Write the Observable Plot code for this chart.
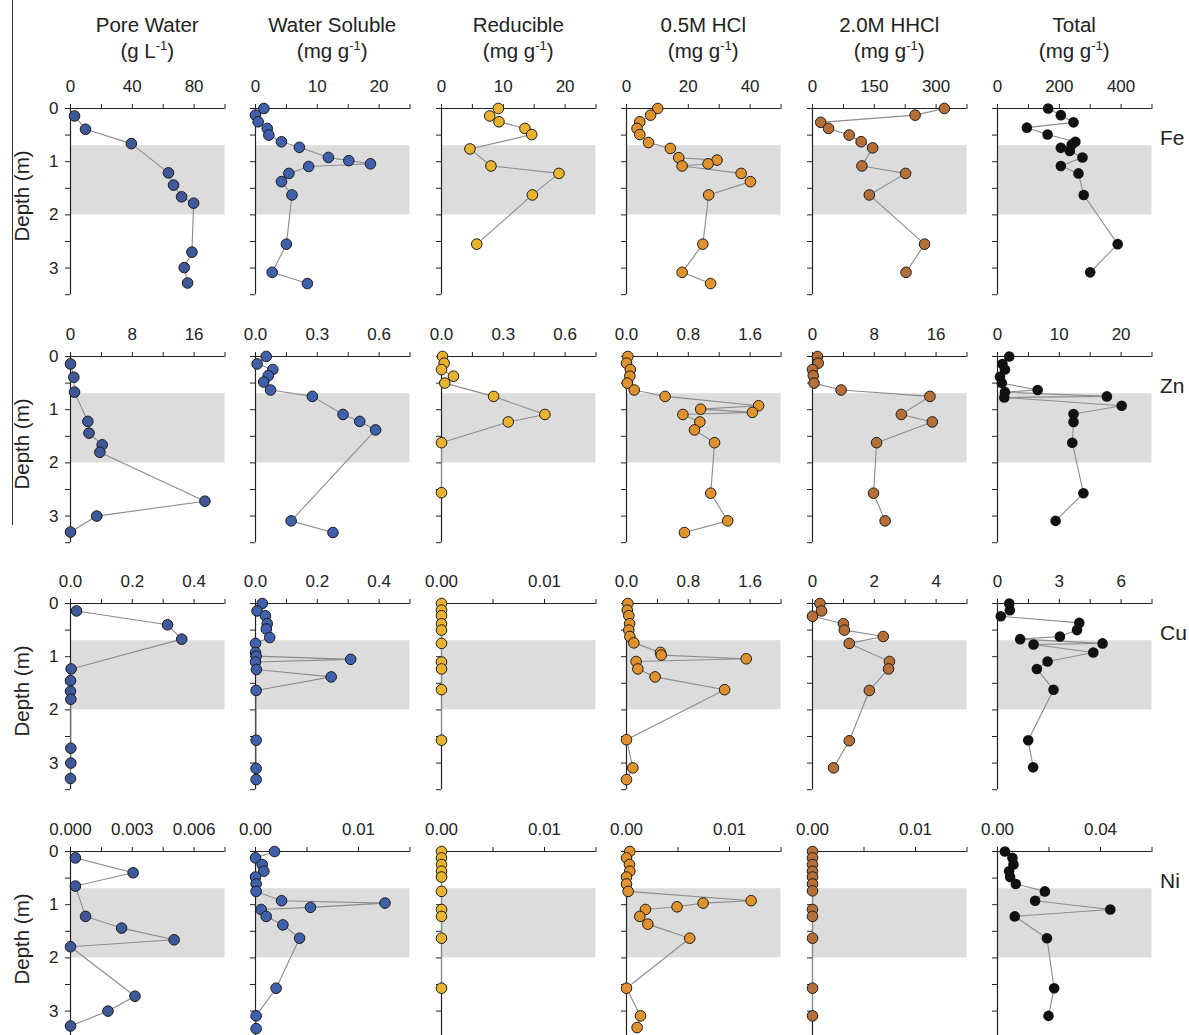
<!DOCTYPE html>
<html><head><meta charset="utf-8">
<script src="https://cdn.jsdelivr.net/npm/d3@7"></script>
<script src="https://cdn.jsdelivr.net/npm/@observablehq/plot@0.6"></script>
<style>
body{margin:0;background:#fff;}
#root{position:relative;width:1189px;height:1035px;overflow:hidden;font-family:"Liberation Sans",Arial,sans-serif;color:#222;}
.abs{position:absolute;white-space:nowrap;}
.title{font-size:20.5px;line-height:26.5px;text-align:center;}
.title sup{font-size:13px;line-height:0;vertical-align:0.6em;}
.rowlab{font-size:21px;line-height:26px;}
.ylab{font-size:20.5px;line-height:24px;transform:translate(-50%,-50%) rotate(-90deg);}
</style></head><body><div id="root"></div><script>
// ---------- data: [depth (m), value] ----------
const fePore = [[0.14,2.6],[0.39,9.7],[0.66,39.4],[1.21,63.4],[1.44,66.7],[1.66,71.9],[1.78,79.7],[2.70,78.6],[2.99,73.6],[3.28,75.8]];
const feWS = [[0,1.35],[0.125,0],[0.25,0.43],[0.375,1.9],[0.5,2.16],[0.625,4.2],[0.73,7.1],[0.92,11.8],[0.98,15.1],[1.04,18.6],[1.09,8.6],[1.22,5.4],[1.375,4.2],[1.625,5.9],[2.55,5.0],[3.08,2.7],[3.29,8.4]];
const feRed = [[0,9.2],[0.14,7.8],[0.25,9.3],[0.375,13.5],[0.49,14.6],[0.76,4.6],[1.08,8.0],[1.22,19.0],[1.625,14.7],[2.55,5.7]];
const feHCl = [[0,10.1],[0.125,7.8],[0.25,4.3],[0.375,3.4],[0.49,4.3],[0.64,7.1],[0.75,14.2],[0.925,16.9],[0.97,29.3],[1.04,26.4],[1.08,18.0],[1.22,37.1],[1.375,40.1],[1.625,26.6],[2.55,24.7],[3.08,18.0],[3.29,27.2]];
const feHHCl = [[0,320],[0.125,249],[0.26,20],[0.375,39],[0.5,89],[0.625,118],[0.74,146],[1.08,120],[1.22,226],[1.625,138],[2.55,272],[3.08,227]];
const feTot = [[0,164],[0.125,205],[0.26,246],[0.36,95],[0.49,162],[0.625,252],[0.68,240],[0.74,205],[0.8,234],[0.92,275],[1.08,205],[1.22,262],[1.625,279],[2.55,389],[3.08,300]];

const znPore = [[0.14,0],[0.39,0.43],[0.67,0.52],[1.22,2.25],[1.44,2.4],[1.66,4.1],[1.8,3.8],[2.72,17.4],[3.0,3.4],[3.3,0]];
const znWS = [[0,0.052],[0.14,0.008],[0.245,0.084],[0.36,0.062],[0.48,0.04],[0.63,0.073],[0.75,0.276],[1.09,0.425],[1.22,0.506],[1.38,0.583],[3.09,0.173],[3.31,0.376]];
const znRed = [[0,0.005],[0.125,0.013],[0.245,0],[0.37,0.058],[0.5,0.016],[0.75,0.253],[1.09,0.502],[1.23,0.324],[1.62,0],[2.56,0]];
const znHCl = [[0,0.017],[0.125,0],[0.245,0.05],[0.37,0.043],[0.5,0.01],[0.63,0.10],[0.75,0.50],[0.925,1.71],[0.99,0.96],[1.05,1.63],[1.09,0.73],[1.23,0.95],[1.38,0.88],[1.62,1.14],[2.57,1.09],[3.09,1.31],[3.31,0.75]];
const znHHCl = [[0,0.65],[0.125,0.74],[0.245,0],[0.36,0.1],[0.5,0.2],[0.63,3.7],[0.75,15.2],[1.09,11.5],[1.23,15.5],[1.62,8.3],[2.57,7.9],[3.09,9.4]];
const znTot = [[0,1.9],[0.14,0.8],[0.245,1.2],[0.38,0.4],[0.5,0.7],[0.63,6.5],[0.67,1.2],[0.75,17.7],[0.77,1.1],[0.925,20.1],[1.08,12.3],[1.23,12.3],[1.62,12.1],[2.57,13.9],[3.09,9.4]];

const cuPore = [[0.14,0.0195],[0.40,0.314],[0.67,0.36],[1.23,0.002],[1.45,0],[1.65,0],[1.80,0.001],[2.72,0.001],[3.0,0.001],[3.29,0]];
const cuWS = [[0,0.022],[0.14,0.005],[0.23,0.032],[0.38,0.038],[0.48,0.035],[0.64,0.046],[0.75,0],[0.92,0],[0.99,0.002],[1.05,0.308],[1.10,0],[1.24,0.003],[1.38,0.245],[1.635,0.002],[2.57,0.002],[3.10,0.002],[3.31,0.002]];
const cuRed = [[0,0],[0.125,0],[0.23,0],[0.38,0],[0.5,0],[0.75,0],[1.1,0],[1.23,0],[1.62,0],[2.57,0]];
const cuHCl = [[0,0.017],[0.125,0.01],[0.23,0.03],[0.38,0.04],[0.5,0.03],[0.62,0.043],[0.74,0.095],[0.92,0.44],[0.97,0.45],[1.04,1.55],[1.09,0.125],[1.23,0.147],[1.38,0.37],[1.62,1.27],[2.56,0],[3.09,0.082],[3.31,0]];
const cuHHCl = [[0,0.24],[0.14,0.29],[0.24,0],[0.38,1.0],[0.5,1.03],[0.62,2.29],[0.75,1.19],[1.09,2.49],[1.23,2.46],[1.635,1.84],[2.58,1.19],[3.09,0.68]];
const cuTot = [[0,0.57],[0.125,0.6],[0.24,0.16],[0.365,3.97],[0.5,3.86],[0.62,3.03],[0.67,1.1],[0.75,5.1],[0.77,1.75],[0.92,4.65],[1.09,2.43],[1.23,1.91],[1.62,2.72],[2.57,1.49],[3.08,1.73]];

const niPore = [[0.12,0.00024],[0.40,0.00304],[0.65,0.00024],[1.22,0.00073],[1.44,0.00248],[1.66,0.00503],[1.79,0],[2.72,0.00313],[3.0,0.00182],[3.28,0]];
const niWS = [[0,0.00185],[0.12,0],[0.245,0.00065],[0.37,0.00081],[0.48,0],[0.61,0.00006],[0.75,0.00006],[0.925,0.00253],[0.97,0.01257],[1.05,0.00534],[1.09,0.00055],[1.22,0.00104],[1.38,0.00266],[1.63,0.00428],[2.57,0.002],[3.09,0.00006],[3.33,0.00006]];
const niRed = [[0,0],[0.12,0],[0.245,0],[0.37,0],[0.48,0],[0.75,0],[1.09,0],[1.22,0],[1.63,0],[2.57,0]];
const niHCl = [[0,0.00032],[0.12,0],[0.245,0.00029],[0.37,0.00032],[0.48,0],[0.61,0],[0.75,0.00016],[0.925,0.0121],[0.97,0.00744],[1.04,0.00491],[1.09,0.00184],[1.22,0.00129],[1.365,0.00207],[1.63,0.00614],[2.57,0],[3.09,0.00136],[3.31,0.00103]];
const niHHCl = [[0,0],[0.12,0],[0.245,0],[0.37,0],[0.48,0],[0.61,0],[0.74,0],[1.09,0],[1.22,0],[1.63,0],[2.57,0],[3.09,0]];
const niTot = [[0,0.0029],[0.12,0.0058],[0.245,0.0062],[0.37,0.0045],[0.48,0.0049],[0.61,0.0071],[0.75,0.0184],[0.925,0.0146],[1.09,0.0438],[1.22,0.0067],[1.63,0.0192],[2.57,0.022],[3.09,0.0198]];

const elements = ["Fe","Zn","Cu","Ni"];
const colTitles = ["Pore Water","Water Soluble","Reducible","0.5M HCl","2.0M HHCl","Total"];
const colUnits = ["g L","mg g","mg g","mg g","mg g","mg g"];
const xMax = [[100,25,25,50,375,500],[20,0.75,0.75,2,20,25],[0.5,0.5,0.015,2,5,7.5],[0.0075,0.015,0.015,0.015,0.015,0.06]];
const xTickLabels = [
  [["0","40","80"],["0","10","20"],["0","10","20"],["0","20","40"],["0","150","300"],["0","200","400"]],
  [["0","8","16"],["0.0","0.3","0.6"],["0.0","0.3","0.6"],["0.0","0.8","1.6"],["0","8","16"],["0","10","20"]],
  [["0.0","0.2","0.4"],["0.0","0.2","0.4"],["0.00","0.01"],["0.0","0.8","1.6"],["0","2","4"],["0","3","6"]],
  [["0.000","0.003","0.006"],["0.00","0.01"],["0.00","0.01"],["0.00","0.01"],["0.00","0.01"],["0.00","0.04"]]
];
const depthTicks = [0,0.5,1,1.5,2,2.5,3,3.5];
const depthLabels = ["0","","1","","2","","3",""];
const shadeTop = [0.7], shadeBottom = [2.0];
const colColors = ["#3E5898","#3F60AB","#E8B32E","#E0922F","#B5703A","#111111"];

const panels = [
  [fePore,feWS,feRed,feHCl,feHHCl,feTot],
  [znPore,znWS,znRed,znHCl,znHHCl,znTot],
  [cuPore,cuWS,cuRed,cuHCl,cuHHCl,cuTot],
  [niPore,niWS,niRed,niHCl,niHHCl,niTot]
];

// ---------- layout ----------
const root = document.getElementById("root");
const colX = [70,255,441,626,812,997];
const panelW = 154.5;
const rowY = [108,356,603.3,851];
const pxPerM = 53.2;
const plotH = 3.5*pxPerM;
const mL=40, mR=14, mT=42, mB=10;

function addDiv(cls, html, left, top, extra) {
  const d = document.createElement("div");
  d.className = "abs " + cls;
  d.innerHTML = html;
  d.style.left = left + "px"; d.style.top = top + "px";
  if (extra) Object.assign(d.style, extra);
  root.appendChild(d);
  return d;
}

// stray frame line at left edge
addDiv("", "", 11.5, 0, {width:"1px", height:"525px", background:"#333"});

for (let c = 0; c < 6; c++) {
  addDiv("title", `${colTitles[c]}<br>(${colUnits[c]}<sup>-1</sup>)`, colX[c], 11.5, {width: panelW + "px"});
}

for (let r = 0; r < 4; r++) {
  addDiv("rowlab", elements[r], 1160, rowY[r] + 30 - 13);
  addDiv("ylab", "Depth (m)", 21.5, rowY[r] + 87.5);
  for (let c = 0; c < 6; c++) {
    const data = panels[r][c];
    const xmax = xMax[r][c];
    const labels = xTickLabels[r][c];
    const majors = labels.map(Number);
    const step = (majors[1] - majors[0]) / 2;
    const n = Math.round(xmax / step);
    const ticks = d3.range(n + 1).map(i => +(i * step).toPrecision(10));
    const fmt = t => { const k = majors.findIndex(m => Math.abs(m - t) < step * 1e-6); return k >= 0 ? labels[k] : ""; };
    const svg = Plot.plot({
      width: panelW + mL + mR,
      height: plotH + mT + mB,
      marginLeft: mL, marginRight: mR, marginTop: mT, marginBottom: mB,
      x: {domain: [0, xmax], axis: null},
      y: {domain: [0, 3.5], reverse: true, axis: null},
      style: {background: "transparent", overflow: "visible", fontFamily: "'Liberation Sans', Arial, sans-serif", fontSize: "17px", color: "#222"},
      marks: [
        Plot.rect(shadeTop, {x1: () => 0, x2: () => xmax, y1: d => d, y2: (d, i) => shadeBottom[i], fill: "#dcdcdc"}),
        Plot.ruleY([0], {stroke: "#222", strokeWidth: 1.2}),
        Plot.ruleX([0], {stroke: "#222", strokeWidth: 1.2}),
        Plot.axisX(ticks, {anchor: "top", tickFormat: fmt, tickSize: 5, tickPadding: 11, fontSize: 17, stroke: "#222"}),
        Plot.axisY(depthTicks, {anchor: "left", tickFormat: (d, i) => c === 0 ? depthLabels[depthTicks.indexOf(d)] : "", tickSize: 5, tickPadding: 7, fontSize: 17, stroke: "#222"}),
        Plot.line(data, {x: d => d[1], y: d => d[0], stroke: "#8c8c8c", strokeWidth: 1.1}),
        Plot.dot(data, {x: d => d[1], y: d => d[0], r: 5.3, fill: colColors[c], stroke: c === 5 ? "none" : "#1a1a1a", strokeWidth: 1})
      ]
    });
    svg.style.position = "absolute";
    svg.style.left = (colX[c] - mL) + "px";
    svg.style.top = (rowY[r] - mT) + "px";
    root.appendChild(svg);
  }
}
</script></body></html>
